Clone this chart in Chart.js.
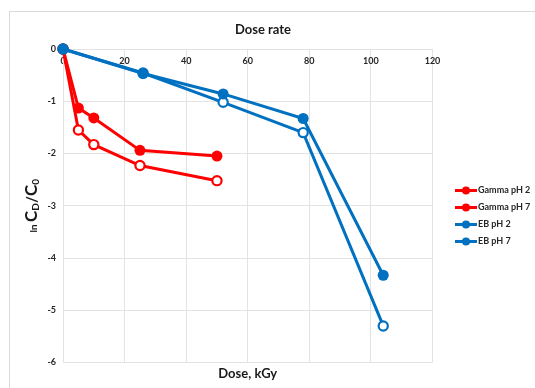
<!DOCTYPE html>
<html>
<head>
<meta charset="utf-8">
<script src="https://cdn.jsdelivr.net/npm/chart.js@4"></script>
<style>
  html, body { margin: 0; padding: 0; background: #ffffff; }
  #wrap { width: 535px; height: 388px; position: relative; }
</style>
</head>
<body>
<div id="wrap"><canvas id="chart" width="535" height="388"></canvas></div>
<script>
// Dose (kGy) for each irradiation series
const gammaDose = [0, 5, 10, 25, 50];
const ebDose = [0, 26, 52, 78, 104];

// ln(CD/C0) values
const gammaPH2 = [0, -1.13, -1.32, -1.94, -2.05];
const gammaPH7 = [0, -1.55, -1.83, -2.23, -2.52];
const ebPH2 = [0, -0.47, -0.86, -1.33, -4.33];
const ebPH7 = [0, -0.46, -1.02, -1.60, -5.30];

const seriesLabels = ['Gamma pH 2', 'Gamma pH 7', 'EB pH 2', 'EB pH 7'];
const chartTitle = 'Dose rate';
const xTitle = 'Dose, kGy';

const RED = '#ff0000';
const BLUE = '#0070c0';
const GRID = '#e3e3e3';
const FONT = "Lato, 'Liberation Sans', sans-serif";

const toPoints = (xs, ys) => xs.map((x, i) => ({ x: x, y: ys[i] }));

// drawOrder: lower values are painted on top
function series(label, xs, ys, color, filled, drawOrder) {
  return {
    label: label,
    data: toPoints(xs, ys),
    order: drawOrder,
    clip: false,
    borderColor: color,
    backgroundColor: filled ? color : '#ffffff',
    borderWidth: 3,
    pointRadius: filled ? 5.5 : 4.6,
    pointHoverRadius: filled ? 5.5 : 4.6,
    pointBorderWidth: filled ? 0 : 2.2,
    pointBorderColor: color,
    pointBackgroundColor: filled ? color : '#ffffff',
    tension: 0,
    fill: false
  };
}

// Outer frame of the chart box
const framePlugin = {
  id: 'frame',
  beforeDraw(chart) {
    const ctx = chart.ctx;
    ctx.save();
    ctx.fillStyle = '#ffffff';
    ctx.fillRect(0, 0, chart.width, chart.height);
    ctx.strokeStyle = '#d9d9d9';
    ctx.lineWidth = 1;
    ctx.strokeRect(9.5, 11.5, chart.width + 20, chart.height + 20);
    ctx.restore();
  }
};

// Vertical axis title with subscripts: ln CD/C0
const yTitlePlugin = {
  id: 'yTitle',
  afterDraw(chart) {
    const ctx = chart.ctx;
    const area = chart.chartArea;
    const parts = [
      { t: 'ln ', size: 10, dy: 0 },
      { t: 'C', size: 17, dy: 0 },
      { t: 'D', size: 10, dy: 2 },
      { t: '/', size: 15, dy: 0 },
      { t: 'C', size: 17, dy: 0 },
      { t: '0', size: 10, dy: 2 }
    ];
    ctx.save();
    let total = 0;
    parts.forEach(p => {
      ctx.font = 'bold ' + p.size + 'px ' + FONT;
      p.w = ctx.measureText(p.t).width;
      total += p.w;
    });
    const cx = 37;
    const cy = (area.top + area.bottom) / 2;
    ctx.translate(cx, cy);
    ctx.rotate(-Math.PI / 2);
    ctx.fillStyle = '#1a1a1a';
    ctx.textBaseline = 'alphabetic';
    ctx.textAlign = 'left';
    let x = -total / 2;
    parts.forEach(p => {
      ctx.font = 'bold ' + p.size + 'px ' + FONT;
      ctx.fillText(p.t, x, p.dy);
      x += p.w;
    });
    ctx.restore();
  }
};

// Legend: line with a dot, then the series name
const legendPlugin = {
  id: 'sideLegend',
  afterDraw(chart) {
    const ctx = chart.ctx;
    const area = chart.chartArea;
    const x0 = area.right + 22.5;
    const y0 = 190.5;
    const step = 17;
    ctx.save();
    chart.data.datasets.forEach((ds, i) => {
      const y = y0 + i * step;
      ctx.strokeStyle = ds.borderColor;
      ctx.lineWidth = 3;
      ctx.beginPath();
      ctx.moveTo(x0, y);
      ctx.lineTo(x0 + 22, y);
      ctx.stroke();
      ctx.fillStyle = ds.borderColor;
      ctx.beginPath();
      ctx.arc(x0 + 11, y, 4, 0, Math.PI * 2);
      ctx.fill();
      ctx.fillStyle = '#262626';
      ctx.font = 'bold 9px ' + FONT;
      ctx.textBaseline = 'middle';
      ctx.textAlign = 'left';
      ctx.fillText(ds.label, x0 + 23, y);
    });
    ctx.restore();
  }
};

const ctx = document.getElementById('chart').getContext('2d');
new Chart(ctx, {
  type: 'line',
  data: {
    datasets: [
      series(seriesLabels[0], gammaDose, gammaPH2, RED, true, 2),
      series(seriesLabels[1], gammaDose, gammaPH7, RED, false, 3),
      series(seriesLabels[2], ebDose, ebPH2, BLUE, true, 0),
      series(seriesLabels[3], ebDose, ebPH7, BLUE, false, 1)
    ]
  },
  options: {
    responsive: false,
    animation: false,
    devicePixelRatio: 1,
    layout: { padding: { left: 0, right: 9, top: 0, bottom: 0 } },
    plugins: {
      legend: { display: false },
      tooltip: { enabled: false },
      title: {
        display: true,
        text: chartTitle,
        color: '#1a1a1a',
        font: { family: FONT, size: 13, weight: 'bold', lineHeight: 1.2 },
        padding: { top: 21.7, bottom: 11.7 }
      }
    },
    scales: {
      x: {
        type: 'linear',
        position: { y: 0 },
        min: 0,
        max: 120,
        ticks: {
          stepSize: 20,
          padding: 7,
          color: '#262626',
          font: { family: FONT, size: 9, weight: 'bold' },
          maxRotation: 0
        },
        grid: { color: GRID, lineWidth: 1, drawTicks: false },
        border: { color: GRID, width: 1 }
      },
      xTitleAxis: {
        type: 'linear',
        axis: 'x',
        position: 'bottom',
        min: 0,
        max: 120,
        ticks: { display: false },
        grid: { display: false, drawTicks: false },
        border: { display: false },
        title: {
          display: true,
          text: xTitle,
          color: '#1a1a1a',
          font: { family: FONT, size: 13, weight: 'bold', lineHeight: 1.2 },
          padding: { top: 0, bottom: 6 }
        },
        afterFit(scale) { scale.height = 25.5; }
      },
      y: {
        type: 'linear',
        position: 'left',
        min: -6,
        max: 0,
        ticks: {
          stepSize: 1,
          padding: 7,
          color: '#262626',
          font: { family: FONT, size: 9, weight: 'bold' }
        },
        grid: { color: GRID, lineWidth: 1, drawTicks: false },
        border: { color: GRID, width: 1 },
        afterFit(scale) { scale.width = 63; }
      },
      yRightSpace: {
        type: 'linear',
        axis: 'y',
        position: 'right',
        min: -6,
        max: 0,
        ticks: { display: false },
        grid: { display: false, drawTicks: false },
        border: { display: false },
        afterFit(scale) { scale.width = 93.5; }
      }
    }
  },
  plugins: [framePlugin, yTitlePlugin, legendPlugin]
});
</script>
</body>
</html>
